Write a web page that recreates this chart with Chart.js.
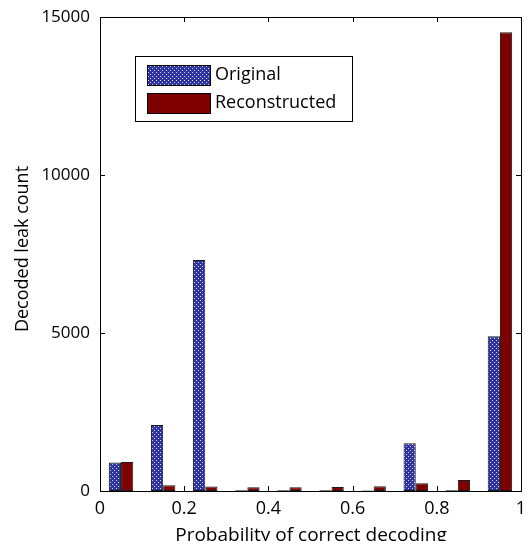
<!DOCTYPE html>
<html>
<head>
<meta charset="utf-8">
<script src="https://cdn.jsdelivr.net/npm/chart.js@4.4.1/dist/chart.umd.min.js"></script>
<style>
html,body{margin:0;padding:0;background:#fff;}
#wrap{width:525px;height:541px;position:relative;}
</style>
</head>
<body>
<div id="wrap"><canvas id="c" width="525" height="541"></canvas></div>
<script>
// Data
const binCenters = [0.05, 0.15, 0.25, 0.35, 0.45, 0.55, 0.65, 0.75, 0.85, 0.95];
const originalCounts = [900, 2090, 7310, 25, 20, 20, 15, 1510, 20, 4900];
const reconstructedCounts = [920, 180, 140, 120, 120, 125, 150, 245, 350, 14520];
const xTicks = [0, 0.2, 0.4, 0.6, 0.8, 1];
const yTicks = [0, 5000, 10000, 15000];
const seriesNames = ['Original', 'Reconstructed'];
const xTitle = 'Probability of correct decoding';
const yTitle = 'Decoded leak count';

const FONT = '"Open Sans", sans-serif';

function makePattern() {
  const t = document.createElement('canvas');
  t.width = 4; t.height = 4;
  const g = t.getContext('2d');
  g.fillStyle = '#2e33a0';
  g.fillRect(0, 0, 4, 4);
  g.fillStyle = '#d4dbff';
  g.fillRect(0, 0, 1, 1);
  g.fillRect(2, 2, 1, 1);
  return document.getElementById('c').getContext('2d').createPattern(t, 'repeat');
}
const pattern = makePattern();
const redColor = '#7f0000';

const boxPlugin = {
  id: 'boxPlugin',
  afterDatasetsDraw(chart) {
    const ctx = chart.ctx;
    const a = chart.chartArea;
    const xs = chart.scales.x, ys = chart.scales.y;
    ctx.save();
    ctx.strokeStyle = '#000';
    ctx.lineWidth = 1;
    // box
    ctx.strokeRect(Math.round(a.left) + 0.5, Math.round(a.top) + 0.5,
      Math.round(a.right - a.left), Math.round(a.bottom - a.top));
    // inward ticks
    const tl = 5;
    ctx.beginPath();
    xTicks.forEach(v => {
      const px = Math.round(xs.getPixelForValue(v)) + 0.5;
      ctx.moveTo(px, a.bottom); ctx.lineTo(px, a.bottom - tl);
      ctx.moveTo(px, a.top); ctx.lineTo(px, a.top + tl);
    });
    yTicks.forEach(v => {
      const py = Math.round(ys.getPixelForValue(v)) + 0.5;
      ctx.moveTo(a.left, py); ctx.lineTo(a.left + tl, py);
      ctx.moveTo(a.right, py); ctx.lineTo(a.right - tl, py);
    });
    ctx.stroke();

    // axis titles
    ctx.fillStyle = '#000';
    ctx.textAlign = 'center';
    ctx.font = '19px ' + FONT;
    ctx.textBaseline = 'alphabetic';
    ctx.fillText(xTitle, 311, 541);
    ctx.save();
    ctx.font = '18px ' + FONT;
    ctx.textBaseline = 'middle';
    ctx.translate(23, 249);
    ctx.rotate(-Math.PI / 2);
    ctx.fillText(yTitle, 0, 0);
    ctx.restore();

    // legend
    const lx = 135, ly = 56, lw = 217, lh = 65;
    ctx.fillStyle = '#fff';
    ctx.fillRect(lx, ly, lw, lh);
    ctx.strokeStyle = '#000';
    ctx.strokeRect(lx + 0.5, ly + 0.5, lw, lh);
    const sw = [[147, 65], [147, 93]];
    const fills = [pattern, redColor];
    for (let i = 0; i < 2; i++) {
      ctx.fillStyle = fills[i];
      ctx.fillRect(sw[i][0], sw[i][1], 63, 20);
      ctx.strokeStyle = '#000';
      ctx.strokeRect(sw[i][0] + 0.5, sw[i][1] + 0.5, 63, 20);
      ctx.fillStyle = '#000';
      ctx.textAlign = 'left';
      ctx.textBaseline = 'middle';
      ctx.font = '18px ' + FONT;
      ctx.fillText(seriesNames[i], 215, sw[i][1] + 10);
    }
    ctx.restore();
  }
};

new Chart(document.getElementById('c'), {
  type: 'bar',
  data: {
    datasets: [
      {
        label: seriesNames[0],
        data: binCenters.map((x, i) => ({ x: x, y: originalCounts[i] })),
        backgroundColor: pattern,
        borderColor: '#1a1a1a',
        borderWidth: 1,
        borderSkipped: false,
        categoryPercentage: 0.58,
        barPercentage: 1.0
      },
      {
        label: seriesNames[1],
        data: binCenters.map((x, i) => ({ x: x, y: reconstructedCounts[i] })),
        backgroundColor: redColor,
        borderColor: '#1a1a1a',
        borderWidth: 1,
        borderSkipped: false,
        categoryPercentage: 0.58,
        barPercentage: 1.0
      }
    ]
  },
  options: {
    responsive: false,
    animation: false,
    layout: { padding: { left: 0, right: 4, top: 17, bottom: 0 } },
    plugins: { legend: { display: false }, tooltip: { enabled: false } },
    scales: {
      x: {
        type: 'linear',
        min: 0, max: 1,
        offset: false,
        afterBuildTicks: s => { s.ticks = xTicks.map(v => ({ value: v })); },
        afterFit: s => { s.height = 50; s.paddingLeft = 0; s.paddingRight = 0; },
        grid: { display: false, drawTicks: false },
        border: { display: false },
        ticks: {
          color: '#000',
          font: { family: FONT, size: 18 },
          padding: 7,
          maxRotation: 0,
          callback: v => String(v)
        }
      },
      y: {
        type: 'linear',
        min: 0, max: 15000,
        afterBuildTicks: s => { s.ticks = yTicks.map(v => ({ value: v })); },
        afterFit: s => { s.width = 100; s.paddingTop = 0; s.paddingBottom = 0; },
        grid: { display: false, drawTicks: false },
        border: { display: false },
        ticks: {
          color: '#000',
          font: { family: FONT, size: 17 },
          padding: 10,
          callback: v => String(v)
        }
      }
    }
  },
  plugins: [boxPlugin]
});
</script>
</body>
</html>
